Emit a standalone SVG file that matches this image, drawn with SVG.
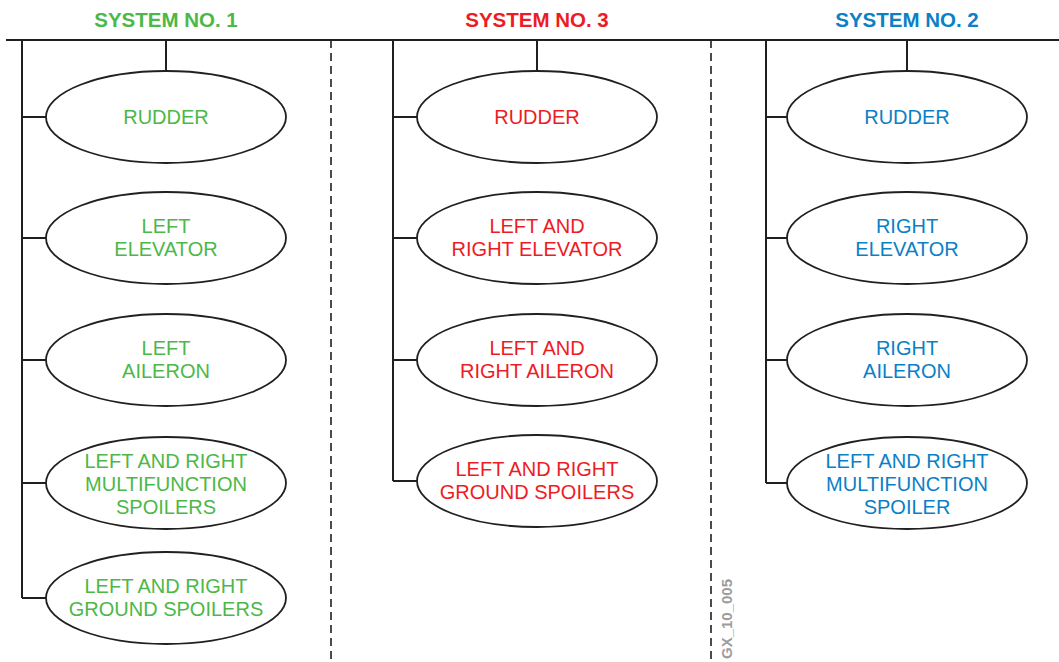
<svg xmlns="http://www.w3.org/2000/svg" width="1059" height="662" viewBox="0 0 1059 662">
<style>
.ln{stroke:#231f20;stroke-width:2;fill:none}
.dash{stroke:#231f20;stroke-width:1.6;fill:none;stroke-dasharray:8,5}
.el{fill:#fff;stroke:#231f20;stroke-width:1.8}
text{font-family:"Liberation Sans",Arial,sans-serif;text-anchor:middle}
.t{font-size:20px}
.h{font-size:20.5px;font-weight:bold}
.g{fill:#4cb848}.r{fill:#ed1c24}.b{fill:#0a80c6}
</style>
<g id="connectors">
<line class="ln" x1="6" y1="40" x2="1059" y2="40"/>
<line class="dash" x1="331" y1="40" x2="331" y2="662"/>
<line class="dash" x1="711" y1="40" x2="711" y2="662"/>
<path class="ln" d="M22 40V598M22 117H46M22 238H46M22 360H46M22 483H46M22 598H46M166 40V71"/>
<path class="ln" d="M393 40V481M393 117H417M393 238H417M393 360H417M393 481H417M537 40V71"/>
<path class="ln" d="M766 40V483M766 117H787M766 238H787M766 360H787M766 483H787M907 40V71"/>
</g>
<g id="titles">
<text class="h g" x="166" y="27">SYSTEM NO. 1</text>
<text class="h r" x="537" y="27">SYSTEM NO. 3</text>
<text class="h b" x="907" y="27">SYSTEM NO. 2</text>
</g>
<g id="s1-rudder"><ellipse class="el" cx="166" cy="117" rx="120" ry="46"/><text class="t g" x="166" y="124">RUDDER</text></g>
<g id="s1-elevator"><ellipse class="el" cx="166" cy="238" rx="120" ry="46"/><text class="t g" x="166" y="233">LEFT</text><text class="t g" x="166" y="256">ELEVATOR</text></g>
<g id="s1-aileron"><ellipse class="el" cx="166" cy="360" rx="120" ry="46"/><text class="t g" x="166" y="355">LEFT</text><text class="t g" x="166" y="378">AILERON</text></g>
<g id="s1-mfs"><ellipse class="el" cx="166" cy="483" rx="120" ry="46"/><text class="t g" x="166" y="468">LEFT AND RIGHT</text><text class="t g" x="166" y="491">MULTIFUNCTION</text><text class="t g" x="166" y="514">SPOILERS</text></g>
<g id="s1-gs"><ellipse class="el" cx="166" cy="598" rx="120" ry="46"/><text class="t g" x="166" y="593">LEFT AND RIGHT</text><text class="t g" x="166" y="616">GROUND SPOILERS</text></g>
<g id="s3-rudder"><ellipse class="el" cx="537" cy="117" rx="120" ry="46"/><text class="t r" x="537" y="124">RUDDER</text></g>
<g id="s3-elevator"><ellipse class="el" cx="537" cy="238" rx="120" ry="46"/><text class="t r" x="537" y="233">LEFT AND</text><text class="t r" x="537" y="256">RIGHT ELEVATOR</text></g>
<g id="s3-aileron"><ellipse class="el" cx="537" cy="360" rx="120" ry="46"/><text class="t r" x="537" y="355">LEFT AND</text><text class="t r" x="537" y="378">RIGHT AILERON</text></g>
<g id="s3-gs"><ellipse class="el" cx="537" cy="481" rx="120" ry="46"/><text class="t r" x="537" y="476">LEFT AND RIGHT</text><text class="t r" x="537" y="499">GROUND SPOILERS</text></g>
<g id="s2-rudder"><ellipse class="el" cx="907" cy="117" rx="120" ry="46"/><text class="t b" x="907" y="124">RUDDER</text></g>
<g id="s2-elevator"><ellipse class="el" cx="907" cy="238" rx="120" ry="46"/><text class="t b" x="907" y="233">RIGHT</text><text class="t b" x="907" y="256">ELEVATOR</text></g>
<g id="s2-aileron"><ellipse class="el" cx="907" cy="360" rx="120" ry="46"/><text class="t b" x="907" y="355">RIGHT</text><text class="t b" x="907" y="378">AILERON</text></g>
<g id="s2-mfs"><ellipse class="el" cx="907" cy="483" rx="120" ry="46"/><text class="t b" x="907" y="468">LEFT AND RIGHT</text><text class="t b" x="907" y="491">MULTIFUNCTION</text><text class="t b" x="907" y="514">SPOILER</text></g>
<text x="0" y="0" transform="translate(732,619) rotate(-90)" style="font-size:15px;font-weight:bold;fill:#9d9d9d">GX_10_005</text>
</svg>
